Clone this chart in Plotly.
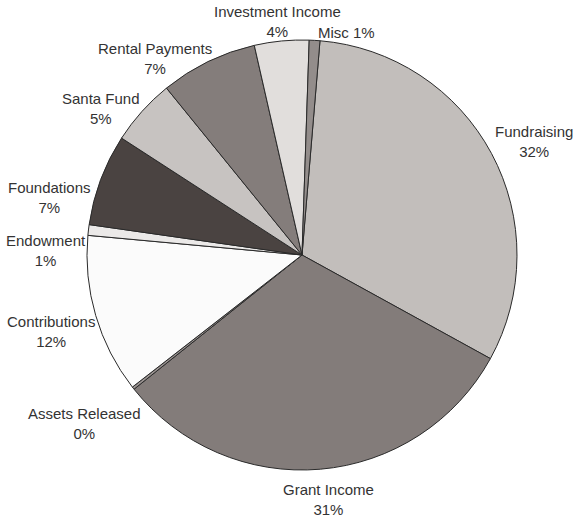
import plotly.graph_objects as go

# ---- data ----
categories = ["Fundraising", "Grant Income", "Assets Released", "Contributions",
              "Endowment", "Foundations", "Santa Fund", "Rental Payments",
              "Investment Income", "Misc"]
values = [31.7, 31.3, 0.2, 12.0, 0.8, 6.9, 5.0, 7.3, 4.1, 0.8]
pct_labels = ["32%", "31%", "0%", "12%", "1%", "7%", "5%", "7%", "4%", "1%"]

# ---- style ----
colors = ["#c2bebb", "#837c7a", "#9a9391", "#fbfbfb", "#ebe9e8",
          "#4a4341", "#c7c3c1", "#847d7b", "#e1dedc", "#938d8b"]

W, H = 580, 516
# label block centres (window pixels) and whether on one line
label_pos = [(534, 141), (328, 499), (85, 423), (51, 331), (46.5, 250.5),
             (49, 197), (101, 109), (154.5, 58.5), (277.5, 22), (346.5, 32)]
one_line = [False, False, False, False, False, False, False, False, False, True]

cx, cy, r = 302, 255, 215

fig = go.Figure(go.Pie(
    labels=categories,
    values=values,
    sort=False,
    direction="clockwise",
    rotation=4.8,
    textinfo="none",
    marker=dict(colors=colors, line=dict(color="#2a2a2a", width=1)),
    domain=dict(x=[(cx - r) / W, (cx + r) / W],
                y=[1 - (cy + r) / H, 1 - (cy - r) / H]),
    showlegend=False,
))

for cat, pct, (px, py), ol in zip(categories, pct_labels, label_pos, one_line):
    text = f"{cat} {pct}" if ol else f"{cat}<br>{pct}"
    fig.add_annotation(
        x=px / W, y=1 - py / H, xref="paper", yref="paper",
        text=text, showarrow=False, align="center",
        xanchor="center", yanchor="middle",
        font=dict(family="Liberation Sans, Arial, sans-serif", size=15, color="#333333"),
    )

fig.update_layout(
    width=W, height=H,
    margin=dict(l=0, r=0, t=0, b=0),
    paper_bgcolor="white",
    plot_bgcolor="white",
)

fig.write_html("out.html", config={"displayModeBar": False},
               post_script="document.body.style.margin='0px';")
